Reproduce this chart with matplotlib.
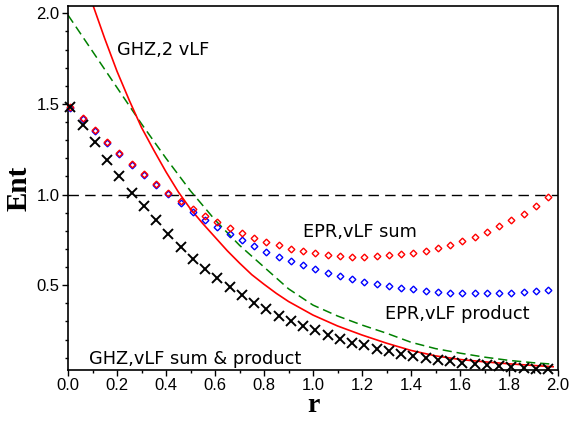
import matplotlib
matplotlib.use("Agg")
import matplotlib.pyplot as plt
from matplotlib.ticker import MultipleLocator

# r grid of the point series
r_pts = [0.01, 0.06, 0.11, 0.16, 0.21, 0.26, 0.31, 0.36, 0.41, 0.46,
         0.51, 0.56, 0.61, 0.66, 0.71, 0.76, 0.81, 0.86, 0.91, 0.96,
         1.01, 1.06, 1.11, 1.16, 1.21, 1.26, 1.31, 1.36, 1.41, 1.46,
         1.51, 1.56, 1.61, 1.66, 1.71, 1.76, 1.81, 1.86, 1.91, 1.96]

# EPR, vLF sum (red diamonds)
epr_sum = [1.485, 1.423, 1.354, 1.290, 1.230, 1.169, 1.111, 1.060, 1.009, 0.964,
           0.921, 0.884, 0.847, 0.814, 0.789, 0.761, 0.739, 0.721, 0.702, 0.688,
           0.677, 0.669, 0.660, 0.657, 0.657, 0.660, 0.666, 0.671, 0.679, 0.691,
           0.706, 0.721, 0.741, 0.765, 0.791, 0.824, 0.857, 0.895, 0.939, 0.987]

# EPR, vLF product (blue diamonds)
epr_prod = [1.480, 1.418, 1.349, 1.285, 1.225, 1.164, 1.108, 1.055, 1.004, 0.954,
            0.906, 0.861, 0.822, 0.783, 0.748, 0.715, 0.685, 0.657, 0.631, 0.609,
            0.587, 0.568, 0.549, 0.534, 0.520, 0.506, 0.495, 0.486, 0.477, 0.467,
            0.462, 0.458, 0.455, 0.455, 0.455, 0.456, 0.458, 0.462, 0.467, 0.475]

# GHZ, vLF sum & product (black crosses)
ghz_vlf = [1.485, 1.386, 1.288, 1.193, 1.100, 1.009, 0.934, 0.857, 0.780, 0.712,
           0.645, 0.591, 0.539, 0.489, 0.443, 0.403, 0.368, 0.331, 0.302, 0.274,
           0.251, 0.225, 0.201, 0.183, 0.168, 0.150, 0.136, 0.123, 0.110, 0.099,
           0.088, 0.079, 0.072, 0.065, 0.060, 0.054, 0.049, 0.043, 0.040, 0.038]

# GHZ, 2 vLF (red solid curve)
r_red = [0.09, 0.15, 0.20, 0.25, 0.30, 0.35, 0.40, 0.45, 0.50, 0.55, 0.60, 0.65,
         0.70, 0.75, 0.80, 0.85, 0.90, 1.00, 1.10, 1.20, 1.30, 1.40, 1.50, 1.60,
         1.70, 1.80, 1.90, 1.98]
ghz_2vlf = [2.09, 1.86, 1.68, 1.52, 1.37, 1.245, 1.125, 1.015, 0.92, 0.84, 0.765, 0.69,
            0.622, 0.558, 0.505, 0.455, 0.41, 0.335, 0.275, 0.225, 0.18, 0.14, 0.11, 0.09,
            0.077, 0.066, 0.057, 0.050]

# green dashed curve
r_green = [0.0, 0.1, 0.2, 0.3, 0.4, 0.5, 0.6, 0.7, 0.8, 0.9, 1.0, 1.1, 1.2, 1.3,
           1.4, 1.5, 1.6, 1.7, 1.8, 1.9, 1.98]
green_vals = [1.99, 1.79, 1.59, 1.39, 1.20, 1.02, 0.86, 0.72, 0.60, 0.48, 0.39, 0.33,
              0.28, 0.235, 0.185, 0.15, 0.125, 0.103, 0.085, 0.072, 0.064]

x_ticks = [0.0, 0.2, 0.4, 0.6, 0.8, 1.0, 1.2, 1.4, 1.6, 1.8, 2.0]
y_ticks = [0.5, 1.0, 1.5, 2.0]

fig = plt.figure(figsize=(5.74, 4.21), dpi=100)
ax = fig.add_axes([68/574, 1 - 370/421, (558 - 68)/574, (370 - 6)/421])

ax.axhline(1.0, color='black', lw=1.0, dashes=(7.5, 4.5), zorder=1)
ax.plot(r_green, green_vals, color='#008000', lw=1.1, dashes=(6, 3.2), zorder=2)
ax.plot(r_red, ghz_2vlf, color='#ff0000', lw=1.2, zorder=2)

ax.plot(r_pts, epr_prod, ls='none', marker='D', ms=3.4, mfc='none', mec='#0000ff',
        mew=1.0, clip_on=False, zorder=3)
ax.plot(r_pts, epr_sum, ls='none', marker='D', ms=3.4, mfc='none', mec='#ff0000',
        mew=1.0, clip_on=False, zorder=4)
ax.plot(r_pts, ghz_vlf, ls='none', marker='x', ms=6.5, mec='black',
        mew=1.4, clip_on=False, zorder=4)

ax.set_xlim(0.0, 2.0)
ax.set_ylim(0.032, 2.04)
ax.set_xticks(x_ticks)
ax.set_yticks(y_ticks)
ax.set_xticklabels([f"{v:.1f}" for v in x_ticks])
ax.set_yticklabels([f"{v:.1f}" for v in y_ticks])
ax.xaxis.set_minor_locator(MultipleLocator(0.1))
ax.yaxis.set_minor_locator(MultipleLocator(0.1))
ax.tick_params(which='both', direction='out', top=False, right=False,
               width=1.0, labelsize=12, pad=2)
ax.tick_params(which='major', length=4)
ax.tick_params(which='minor', length=2.5)
for lab in ax.get_xticklabels() + ax.get_yticklabels():
    lab.set_family('Liberation Sans')
for s in ax.spines.values():
    s.set_linewidth(1.2)

ax.set_xlabel('r', family='Liberation Serif', fontweight='bold', fontsize=20, labelpad=0)
ax.set_ylabel('Ent', family='Liberation Serif', fontweight='bold', fontsize=21, labelpad=3)

tkw = dict(family='DejaVu Sans', fontsize=12.8, va='baseline', ha='left')
ax.text(0.20, 1.768, 'GHZ,2 vLF', **tkw)
ax.text(0.96, 0.766, 'EPR,vLF sum', **tkw)
ax.text(1.294, 0.316, 'EPR,vLF product', **tkw)
ax.text(0.086, 0.064, 'GHZ,vLF sum & product', **tkw)

fig.savefig('out.png', dpi=100)
